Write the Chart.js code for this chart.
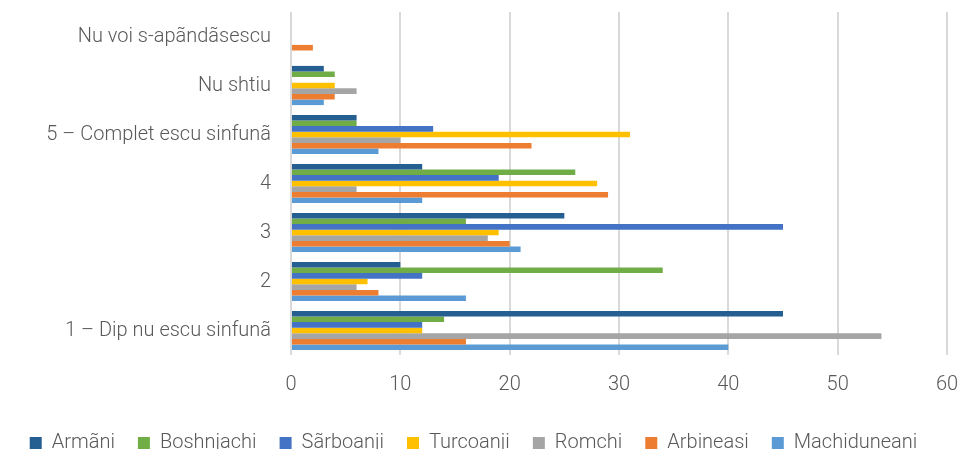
<!DOCTYPE html>
<html>
<head>
<meta charset="utf-8">
<script src="https://cdn.jsdelivr.net/npm/chart.js@4"></script>
<style>
html,body{margin:0;padding:0;background:#fff;}
#wrap{width:958px;height:449px;position:relative;}
</style>
</head>
<body>
<div id="wrap"><canvas id="c" width="958" height="449"></canvas></div>
<script>
const categories = ["Nu voi s-apãndãsescu", "Nu shtiu", "5 – Complet escu sinfunã", "4", "3", "2", "1 – Dip nu escu sinfunã"];
const seriesNames = ["Armãni", "Boshnjachi", "Sãrboanji", "Turcoanji", "Romchi", "Arbineasi", "Machiduneani"];
const armani       = [0, 3, 6, 12, 25, 10, 45];
const boshnjachi   = [0, 4, 6, 26, 16, 34, 14];
const sarboanji    = [0, 0, 13, 19, 45, 12, 12];
const turcoanji    = [0, 4, 31, 28, 19, 7, 12];
const romchi       = [0, 6, 10, 6, 18, 6, 54];
const arbineasi    = [2, 4, 22, 29, 20, 8, 16];
const machiduneani = [0, 3, 8, 12, 21, 16, 40];
const xTicks = [0, 10, 20, 30, 40, 50, 60];

const colors = ["#255E91", "#70AD47", "#4472C4", "#FFC000", "#A5A5A5", "#ED7D31", "#5B9BD5"];
const values = [armani, boshnjachi, sarboanji, turcoanji, romchi, arbineasi, machiduneani];

const FONT = "Roboto, 'Noto Sans', sans-serif";
const TXT = "#595959";

const legendFix = {
  id: 'legendFix',
  beforeInit(chart) {
    const lg = chart.legend;
    if (lg) {
      const orig = lg.fit;
      lg.fit = function () {
        const mw = this.maxWidth;
        this.maxWidth = 3000;
        orig.call(this);
        this.maxWidth = mw;
        this.width = mw;
        this.height = 39;
      };
    }
  }
};

new Chart(document.getElementById('c'), {
  type: 'bar',
  data: {
    labels: categories,
    datasets: seriesNames.map((n, i) => ({
      label: n,
      data: values[i],
      backgroundColor: colors[i],
      borderWidth: 0,
      categoryPercentage: 0.80,
      barPercentage: 1.0
    }))
  },
  options: {
    indexAxis: 'y',
    responsive: false,
    animation: false,
    layout: { padding: { top: 12, right: 11, left: 0, bottom: 0 } },
    plugins: {
      tooltip: { enabled: false },
      legend: {
        position: 'bottom',
        labels: {
          boxWidth: 12, boxHeight: 12, padding: 23,
          color: TXT,
          font: { family: FONT, size: 20, weight: 300 }
        }
      }
    },
    scales: {
      x: {
        min: 0, max: 60,
        afterBuildTicks(scale) { scale.ticks = xTicks.map(v => ({ value: v })); },
        afterFit(scale) { scale.height = 55; scale.paddingLeft = 0; scale.paddingRight = 0; },
        grid: { color: "#D9D9D9", lineWidth: 2, drawTicks: false },
        border: { display: false },
        ticks: { color: TXT, font: { family: FONT, size: 20, weight: 300 }, padding: 18 }
      },
      y: {
        afterFit(scale) { scale.width = 291; scale.paddingTop = 0; scale.paddingBottom = 0; },
        grid: { display: false, drawTicks: false },
        border: { display: false },
        ticks: { color: TXT, font: { family: FONT, size: 20, weight: 300 }, padding: 20 }
      }
    }
  },
  plugins: [legendFix]
});
</script>
</body>
</html>
